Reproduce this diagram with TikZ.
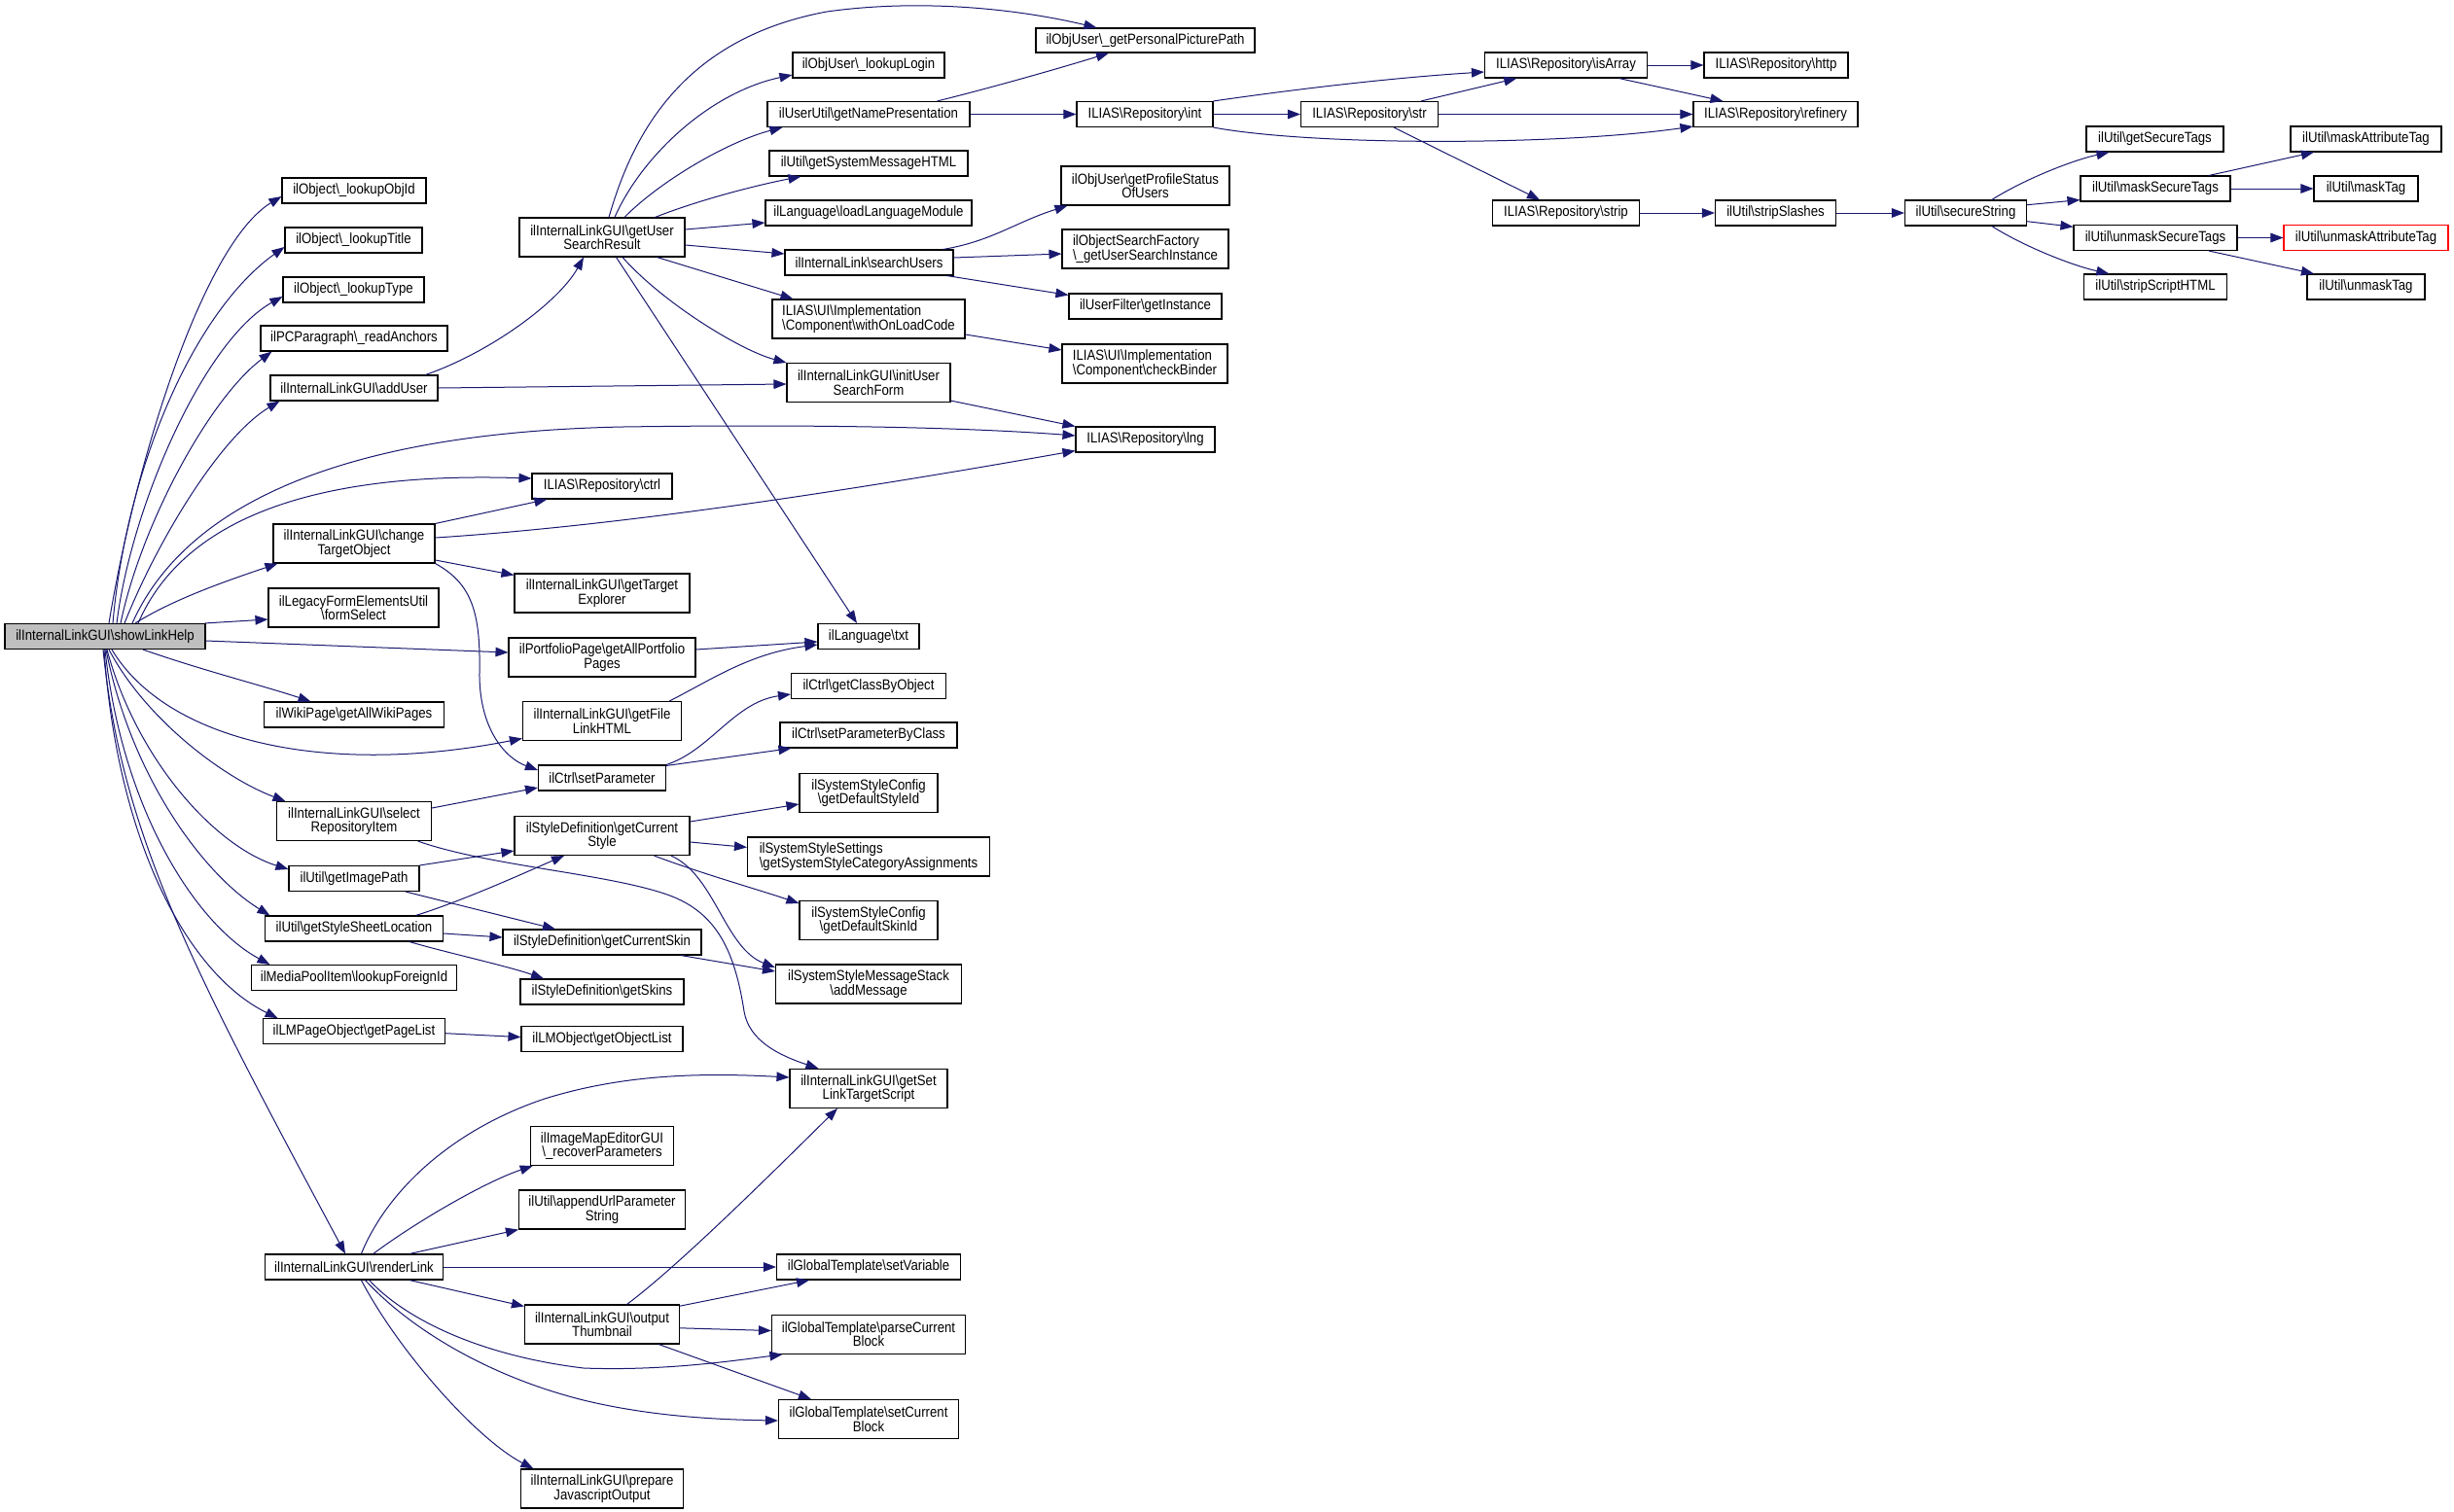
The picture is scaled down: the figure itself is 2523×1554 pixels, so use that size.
\documentclass[tikz,border=0pt]{standalone}
\usepackage{fontspec}
\setmainfont{Liberation Sans}[FakeStretch=0.88]
\usetikzlibrary{arrows.meta}
\definecolor{edgec}{HTML}{191970}
\definecolor{rootfill}{HTML}{BFBFBF}
\newcommand{\BSL}{\textbackslash}
\begin{document}
\begin{tikzpicture}[x=0.5pt,y=-0.5pt,
 box/.style={draw=black, line width=0.55pt, rectangle, inner sep=1pt, minimum height=13pt, font=\fontsize{7.5}{7.2}\selectfont, align=center},
 tall/.style={minimum height=20pt},
 lbox/.style={align=left},
 root/.style={fill=rootfill},
 redbox/.style={draw=red},
 conn/.style={draw=edgec, line width=0.5pt, -{Triangle[length=6.5pt,width=4.8pt]}},
]
\useasboundingbox (0,0) rectangle (2523,1554);
\fill[white] (0,0) rectangle (2523,1554);

% ---- column 0
\node[box, root, minimum width=103pt] (S) at (108,654.5) {ilInternalLinkGUI\BSL showLinkHelp};
% ---- column 1
\node[box, minimum width=74pt] (oid) at (364,196) {ilObject\BSL\_lookupObjId};
\node[box, minimum width=70.5pt] (otitle) at (363.5,247) {ilObject\BSL\_lookupTitle};
\node[box, minimum width=72.5pt] (otype) at (363.5,298) {ilObject\BSL\_lookupType};
\node[box, minimum width=96pt] (ranch) at (364,348) {ilPCParagraph\BSL\_readAnchors};
\node[box, minimum width=86pt] (adduser) at (364,399) {ilInternalLinkGUI\BSL addUser};
\node[box, tall, minimum width=83pt] (change) at (364,559) {ilInternalLinkGUI\BSL change\\TargetObject};
\node[box, tall, minimum width=87.5pt] (fsel) at (363.5,625) {ilLegacyFormElementsUtil\\\BSL formSelect};
\node[box, minimum width=92.5pt] (wiki) at (364,735) {ilWikiPage\BSL getAllWikiPages};
\node[box, tall, minimum width=79.5pt] (sel) at (364,844.5) {ilInternalLinkGUI\BSL select\\RepositoryItem};
\node[box, minimum width=67pt] (imgp) at (364,903.5) {ilUtil\BSL getImagePath};
\node[box, minimum width=91.5pt] (ssl) at (364,955) {ilUtil\BSL getStyleSheetLocation};
\node[box, minimum width=105.5pt] (forid) at (364,1005.5) {ilMediaPoolItem\BSL lookupForeignId};
\node[box, minimum width=93.5pt] (plist) at (364,1060.7) {ilLMPageObject\BSL getPageList};
\node[box, minimum width=91.5pt] (render) at (364,1303) {ilInternalLinkGUI\BSL renderLink};
% ---- column 2
\node[box, tall, minimum width=85pt] (G) at (619,244) {ilInternalLinkGUI\BSL getUser\\SearchResult};
\node[box, minimum width=72pt] (ctrl) at (619,500) {ILIAS\BSL Repository\BSL ctrl};
\node[box, tall, minimum width=90pt] (texp) at (619,610) {ilInternalLinkGUI\BSL getTarget\\Explorer};
\node[box, tall, minimum width=96pt] (portf) at (619,676) {ilPortfolioPage\BSL getAllPortfolio\\Pages};
\node[box, tall, minimum width=81.5pt] (flink) at (619,741.6) {ilInternalLinkGUI\BSL getFile\\LinkHTML};
\node[box, minimum width=65.5pt] (setp) at (619,800) {ilCtrl\BSL setParameter};
\node[box, tall, minimum width=90pt] (cstyle) at (619,859.5) {ilStyleDefinition\BSL getCurrent\\Style};
\node[box, minimum width=102pt] (cskin) at (619,969) {ilStyleDefinition\BSL getCurrentSkin};
\node[box, minimum width=84pt] (skins) at (619,1020) {ilStyleDefinition\BSL getSkins};
\node[box, minimum width=83pt] (olist) at (619,1068.6) {ilLMObject\BSL getObjectList};
\node[box, tall, minimum width=73.5pt] (recov) at (619,1178.5) {ilImageMapEditorGUI\\\BSL\_recoverParameters};
\node[box, tall, minimum width=85.5pt] (aurl) at (619,1244) {ilUtil\BSL appendUrlParameter\\String};
\node[box, tall, minimum width=79.5pt] (thumb) at (619,1362) {ilInternalLinkGUI\BSL output\\Thumbnail};
\node[box, tall, minimum width=83.5pt] (prep) at (619,1531) {ilInternalLinkGUI\BSL prepare\\JavascriptOutput};
% ---- column 3
\node[box, minimum width=78pt] (login) at (893,67) {ilObjUser\BSL\_lookupLogin};
\node[box, minimum width=104pt] (namep) at (893,117.5) {ilUserUtil\BSL getNamePresentation};
\node[box, minimum width=102pt] (sysmsg) at (893,168) {ilUtil\BSL getSystemMessageHTML};
\node[box, minimum width=106pt] (loadl) at (893,219) {ilLanguage\BSL loadLanguageModule};
\node[box, minimum width=86.5pt] (susers) at (893.5,270) {ilInternalLink\BSL searchUsers};
\node[box, tall, lbox, minimum width=99pt] (onload) at (893,328) {ILIAS\BSL UI\BSL Implementation\\\BSL Component\BSL withOnLoadCode};
\node[box, tall, minimum width=84pt] (initf) at (893,393.5) {ilInternalLinkGUI\BSL initUser\\SearchForm};
\node[box, minimum width=52pt] (txt) at (893,654.5) {ilLanguage\BSL txt};
\node[box, minimum width=79.5pt] (cbo) at (893,705.5) {ilCtrl\BSL getClassByObject};
\node[box, minimum width=91pt] (pbc) at (893,756) {ilCtrl\BSL setParameterByClass};
\node[box, tall, minimum width=71pt] (dsid) at (893,815.5) {ilSystemStyleConfig\\\BSL getDefaultStyleId};
\node[box, tall, lbox, minimum width=124.5pt] (catas) at (893,881) {ilSystemStyleSettings\\\BSL getSystemStyleCategoryAssignments};
\node[box, tall, minimum width=71pt] (dskid) at (893,946.5) {ilSystemStyleConfig\\\BSL getDefaultSkinId};
\node[box, tall, minimum width=95.5pt] (addmsg) at (893,1012) {ilSystemStyleMessageStack\\\BSL addMessage};
\node[box, tall, minimum width=81pt] (slts) at (893,1119.4) {ilInternalLinkGUI\BSL getSet\\LinkTargetScript};
\node[box, minimum width=94.5pt] (setvar) at (893,1303) {ilGlobalTemplate\BSL setVariable};
\node[box, tall, minimum width=99.5pt] (pcb) at (893,1372.4) {ilGlobalTemplate\BSL parseCurrent\\Block};
\node[box, tall, minimum width=92.5pt] (scb) at (893,1459.5) {ilGlobalTemplate\BSL setCurrent\\Block};
% ---- column 4
\node[box, minimum width=112.5pt, minimum height=12.5pt] (picp) at (1177.5,41.5) {ilObjUser\BSL\_getPersonalPicturePath};
\node[box, minimum width=70pt] (int) at (1177,117.5) {ILIAS\BSL Repository\BSL int};
\node[box, tall, minimum width=86.5pt] (prof) at (1177.5,191) {ilObjUser\BSL getProfileStatus\\OfUsers};
\node[box, tall, lbox, minimum width=85.5pt] (usi) at (1177.5,256) {ilObjectSearchFactory\\\BSL\_getUserSearchInstance};
\node[box, minimum width=78.5pt] (ufilt) at (1177.5,315) {ilUserFilter\BSL getInstance};
\node[box, tall, lbox, minimum width=85pt] (chkb) at (1177,374) {ILIAS\BSL UI\BSL Implementation\\\BSL Component\BSL checkBinder};
\node[box, minimum width=71.5pt] (lng) at (1177.5,452) {ILIAS\BSL Repository\BSL lng};
% ---- columns 5-7
\node[box, minimum width=70.5pt] (str) at (1408,117.5) {ILIAS\BSL Repository\BSL str};
\node[box, minimum width=83.5pt] (isarr) at (1610,67) {ILIAS\BSL Repository\BSL isArray};
\node[box, minimum width=75.5pt] (strip) at (1610,219) {ILIAS\BSL Repository\BSL strip};
\node[box, minimum width=74pt] (http) at (1826,67) {ILIAS\BSL Repository\BSL http};
\node[box, minimum width=84.5pt] (refin) at (1825.5,117.5) {ILIAS\BSL Repository\BSL refinery};
\node[box, minimum width=62pt] (sslash) at (1825.5,219) {ilUtil\BSL stripSlashes};
% ---- columns 8-10
\node[box, minimum width=62.5pt] (secs) at (2021,219) {ilUtil\BSL secureString};
\node[box, minimum width=70.5pt] (gst) at (2215.5,143) {ilUtil\BSL getSecureTags};
\node[box, minimum width=77pt] (mst) at (2216,194) {ilUtil\BSL maskSecureTags};
\node[box, minimum width=84pt] (umst) at (2216,244.5) {ilUtil\BSL unmaskSecureTags};
\node[box, minimum width=73.5pt] (sshtml) at (2216,295) {ilUtil\BSL stripScriptHTML};
\node[box, minimum width=77.5pt] (mat) at (2432.5,143) {ilUtil\BSL maskAttributeTag};
\node[box, minimum width=53.5pt] (mtag) at (2432.5,194) {ilUtil\BSL maskTag};
\node[box, redbox, minimum width=84.5pt] (umat) at (2432.5,244.5) {ilUtil\BSL unmaskAttributeTag};
\node[box, minimum width=60.5pt] (umtag) at (2432.5,295) {ilUtil\BSL unmaskTag};

% ================= edges
% S upper
\draw[conn] ([shift={(4,0)}]S.north) .. controls (140,470) and (210,250) .. ([shift={(0,6)}]oid.west);
\draw[conn] ([shift={(8,0)}]S.north) .. controls (130,480) and (200,320) .. ([shift={(0,7)}]otitle.west);
\draw[conn] ([shift={(12,0)}]S.north) .. controls (135,520) and (210,350) .. ([shift={(0,7)}]otype.west);
\draw[conn] ([shift={(16,0)}]S.north) .. controls (145,540) and (215,410) .. ([shift={(12,0)}]ranch.south west);
\draw[conn] ([shift={(20,0)}]S.north) .. controls (160,560) and (225,450) .. ([shift={(10,0)}]adduser.south west);
\draw[conn] ([shift={(28,0)}]S.north) .. controls (190,520) and (350,445) .. (640,439) .. controls (850,436) and (1000,440) .. ([shift={(0,-4)}]lng.west);
\draw[conn] ([shift={(34,0)}]S.north) .. controls (190,530) and (330,485) .. ([shift={(0,-8)}]ctrl.west);
\draw[conn] ([shift={(31,0)}]S.north) .. controls (180,615) and (240,595) .. ([shift={(5,0)}]change.south west);
\draw[conn] ([shift={(-1,0)}]S.north east) -- ([shift={(0,12)}]fsel.west);
\draw[conn] ([shift={(0,4.5)}]S.east) -- ([shift={(0,-5)}]portf.west);
% S lower
\draw[conn] ([shift={(39,0)}]S.south) .. controls (210,690) and (270,705) .. ([shift={(48.6,0)}]wiki.north west);
\draw[conn] ([shift={(7,0)}]S.south) .. controls (170,760) and (330,800) .. ([shift={(0,-2.7)}]flink.south west);
\draw[conn] ([shift={(4,0)}]S.south) .. controls (150,740) and (230,800) .. ([shift={(9.5,0)}]sel.north west);
\draw[conn] ([shift={(2,0)}]S.south) .. controls (140,780) and (220,870) .. ([shift={(0,-9.5)}]imgp.west);
\draw[conn] ([shift={(1,0)}]S.south) .. controls (135,800) and (210,900) .. ([shift={(5.5,0)}]ssl.north west);
\draw[conn] (S.south) .. controls (125,830) and (200,950) .. ([shift={(19.5,0)}]forid.north west);
\draw[conn] ([shift={(-1,0)}]S.south) .. controls (120,860) and (190,1000) .. ([shift={(15.7,0)}]plist.north west);
\draw[conn] ([shift={(-2,0)}]S.south) .. controls (125,860) and (200,1000) .. ([shift={(-9,0)}]render.north);
% addUser / getUserSearchResult
\draw[conn] ([shift={(-13,0)}]adduser.north east) .. controls (505,362) and (575,310) .. ([shift={(-19,0)}]G.south);
\draw[conn] (adduser.east) -- ([shift={(0,1.5)}]initf.west);
\draw[conn] ([shift={(7,0)}]G.north) .. controls (650,140) and (700,40) .. (850,12) .. controls (950,-2) and (1050,10) .. ([shift={(63,0)}]picp.north west);
\draw[conn] ([shift={(13,0)}]G.north) .. controls (660,160) and (730,95) .. ([shift={(0,10)}]login.west);
\draw[conn] ([shift={(23,0)}]G.north) .. controls (680,185) and (750,145) .. ([shift={(16,0)}]namep.south west);
\draw[conn] ([shift={(-31,0)}]G.north east) .. controls (720,205) and (780,190) .. ([shift={(33,0)}]sysmsg.south west);
\draw[conn] ([shift={(0,-8)}]G.east) -- ([shift={(0,10)}]loadl.west);
\draw[conn] ([shift={(0,8)}]G.east) -- ([shift={(0,-9)}]susers.west);
\draw[conn] ([shift={(-29,0)}]G.south east) -- ([shift={(22,0)}]onload.north west);
\draw[conn] ([shift={(21,0)}]G.south) .. controls (680,310) and (760,360) .. (initf.north west);
\draw[conn] ([shift={(14.5,0)}]G.south) -- ([shift={(-12,0)}]txt.north);
% column 3 -> 4
\draw[conn] ([shift={(-34,0)}]namep.north east) .. controls (1020,90) and (1090,70) .. ([shift={(-37.5,0)}]picp.south);
\draw[conn] (namep.east) -- (int.west);
\draw[conn] ([shift={(-11,0)}]susers.north east) .. controls (1020,248) and (1045,228) .. ([shift={(7,0)}]prof.south west);
\draw[conn] ([shift={(0,-5)}]susers.east) -- ([shift={(0,5)}]usi.west);
\draw[conn] ([shift={(-7,0)}]susers.south east) -- ([shift={(0,2)}]ufilt.north west);
\draw[conn] ([shift={(0,16)}]onload.east) -- ([shift={(0,-14)}]chkb.west);
\draw[conn] ([shift={(0,-2)}]initf.south east) -- (lng.north west);
% changeTargetObject
\draw[conn] (change.north east) -- ([shift={(16,0)}]ctrl.south west);
\draw[conn] ([shift={(0,-6)}]change.east) .. controls (650,540) and (900,500) .. ([shift={(0,-2)}]lng.south west);
\draw[conn] ([shift={(0,17)}]change.east) -- ([shift={(0,2)}]texp.north west);
\draw[conn] (change.south east) .. controls (485,600) and (494,630) .. (493,690) .. controls (492,750) and (520,780) .. ([shift={(0,-8)}]setp.west);
% portfolio / file link
\draw[conn] ([shift={(0,-8)}]portf.east) -- ([shift={(0,5.5)}]txt.west);
\draw[conn] ([shift={(-13,0)}]flink.north east) .. controls (730,700) and (770,672) .. ([shift={(0,8.5)}]txt.west);
% setParameter
\draw[conn] (setp.north east) .. controls (730,772) and (755,722) .. ([shift={(0,8.5)}]cbo.west);
\draw[conn] ([shift={(0,1)}]setp.north east) -- ([shift={(12,0)}]pbc.south west);
% selectRepositoryItem
\draw[conn] ([shift={(0,-13.5)}]sel.east) -- ([shift={(0,10)}]setp.west);
\draw[conn] ([shift={(-14.4,0)}]sel.south east) .. controls (500,890) and (620,898) .. (683,919) .. controls (735,936) and (755,975) .. (765,1040) .. controls (770,1070) and (800,1085) .. ([shift={(30,0)}]slts.north west);
% getImagePath / getStyleSheetLocation
\draw[conn] (imgp.north east) -- ([shift={(0,15.5)}]cstyle.west);
\draw[conn] ([shift={(-14.6,0)}]imgp.south east) -- ([shift={(-48,0)}]cskin.north);
\draw[conn] ([shift={(-28.5,0)}]ssl.north east) .. controls (480,925) and (545,895) .. ([shift={(-39,0)}]cstyle.south);
\draw[conn] ([shift={(0,5)}]ssl.east) -- ([shift={(0,-5)}]cskin.west);
\draw[conn] ([shift={(-35,0)}]ssl.south east) .. controls (460,980) and (520,993) .. ([shift={(-60,0)}]skins.north);
% getCurrentStyle / getCurrentSkin
\draw[conn] ([shift={(0,-14.5)}]cstyle.east) -- ([shift={(0,11.5)}]dsid.west);
\draw[conn] ([shift={(0,6.5)}]cstyle.east) -- ([shift={(0,-9.6)}]catas.west);
\draw[conn] ([shift={(-37,0)}]cstyle.south east) .. controls (720,898) and (780,915) .. ([shift={(0,-17.5)}]dskid.west);
\draw[conn] ([shift={(-19.6,0)}]cstyle.south east) .. controls (735,900) and (745,975) .. ([shift={(0,-17)}]addmsg.west);
\draw[conn] ([shift={(-21.4,0)}]cskin.south east) -- ([shift={(0,-13)}]addmsg.west);
% getPageList
\draw[conn] ([shift={(0,2)}]plist.east) -- ([shift={(0,-2)}]olist.west);
% renderLink
\draw[conn] ([shift={(7.4,0)}]render.north) .. controls (400,1220) and (470,1160) .. (560,1130) .. controls (640,1105) and (720,1103) .. ([shift={(0,-11.4)}]slts.west);
\draw[conn] ([shift={(19.7,0)}]render.north) .. controls (430,1255) and (500,1215) .. ([shift={(2.7,0)}]recov.south west);
\draw[conn] ([shift={(-35,0)}]render.north east) -- (aurl.south west);
\draw[conn] (render.east) -- (setvar.west);
\draw[conn] ([shift={(-35,0)}]render.south east) -- ([shift={(0,2)}]thumb.north west);
\draw[conn] ([shift={(15.6,0)}]render.south) .. controls (420,1360) and (500,1395) .. (600,1407) .. controls (680,1410) and (750,1400) .. ([shift={(11.5,0)}]pcb.south west);
\draw[conn] ([shift={(11.5,0)}]render.south) .. controls (420,1365) and (500,1415) .. (600,1440) .. controls (670,1457) and (740,1460) .. ([shift={(0,1.5)}]scb.west);
\draw[conn] ([shift={(7.4,0)}]render.south) .. controls (410,1390) and (490,1480) .. ([shift={(13.5,0)}]prep.north west);
% outputThumbnail
\draw[conn] ([shift={(25.5,0)}]thumb.north) .. controls (700,1300) and (800,1200) .. ([shift={(-32,0)}]slts.south);
\draw[conn] ([shift={(0,1.7)}]thumb.north east) -- ([shift={(-61,0)}]setvar.south);
\draw[conn] ([shift={(0,3.8)}]thumb.east) -- ([shift={(0,-3.9)}]pcb.west);
\draw[conn] ([shift={(-21.8,0)}]thumb.south east) -- ([shift={(-59,0)}]scb.north);
% repository chain
\draw[conn] (int.north east) .. controls (1330,92) and (1430,80) .. ([shift={(0,7)}]isarr.west);
\draw[conn] (int.east) -- (str.west);
\draw[conn] (int.south east) .. controls (1350,150) and (1600,150) .. ([shift={(0,-1)}]refin.south west);
\draw[conn] ([shift={(-18,0)}]str.north east) -- ([shift={(33.4,0)}]isarr.south west);
\draw[conn] (str.east) -- (refin.west);
\draw[conn] ([shift={(25,0)}]str.south) -- ([shift={(-27,0)}]strip.north);
\draw[conn] (isarr.east) -- (http.west);
\draw[conn] ([shift={(-29.5,0)}]isarr.south east) -- ([shift={(31,0)}]refin.north west);
\draw[conn] (strip.east) -- (sslash.west);
\draw[conn] (sslash.east) -- (secs.west);
% secureString
\draw[conn] ([shift={(26.8,0)}]secs.north) .. controls (2080,185) and (2130,165) .. ([shift={(24,0)}]gst.south west);
\draw[conn] ([shift={(0,-8.3)}]secs.east) -- ([shift={(0,-2)}]mst.south west);
\draw[conn] ([shift={(0,8.7)}]secs.east) -- ([shift={(0,-11.2)}]umst.west);
\draw[conn] ([shift={(26.8,0)}]secs.south) .. controls (2080,253) and (2130,273) .. ([shift={(26.4,0)}]sshtml.north west);
\draw[conn] ([shift={(-22.5,0)}]mst.north east) -- ([shift={(24.5,0)}]mat.south west);
\draw[conn] (mst.east) -- (mtag.west);
\draw[conn] (umst.east) -- (umat.west);
\draw[conn] ([shift={(-29.5,0)}]umst.south east) -- ([shift={(7.5,0)}]umtag.north west);
\end{tikzpicture}
\end{document}
